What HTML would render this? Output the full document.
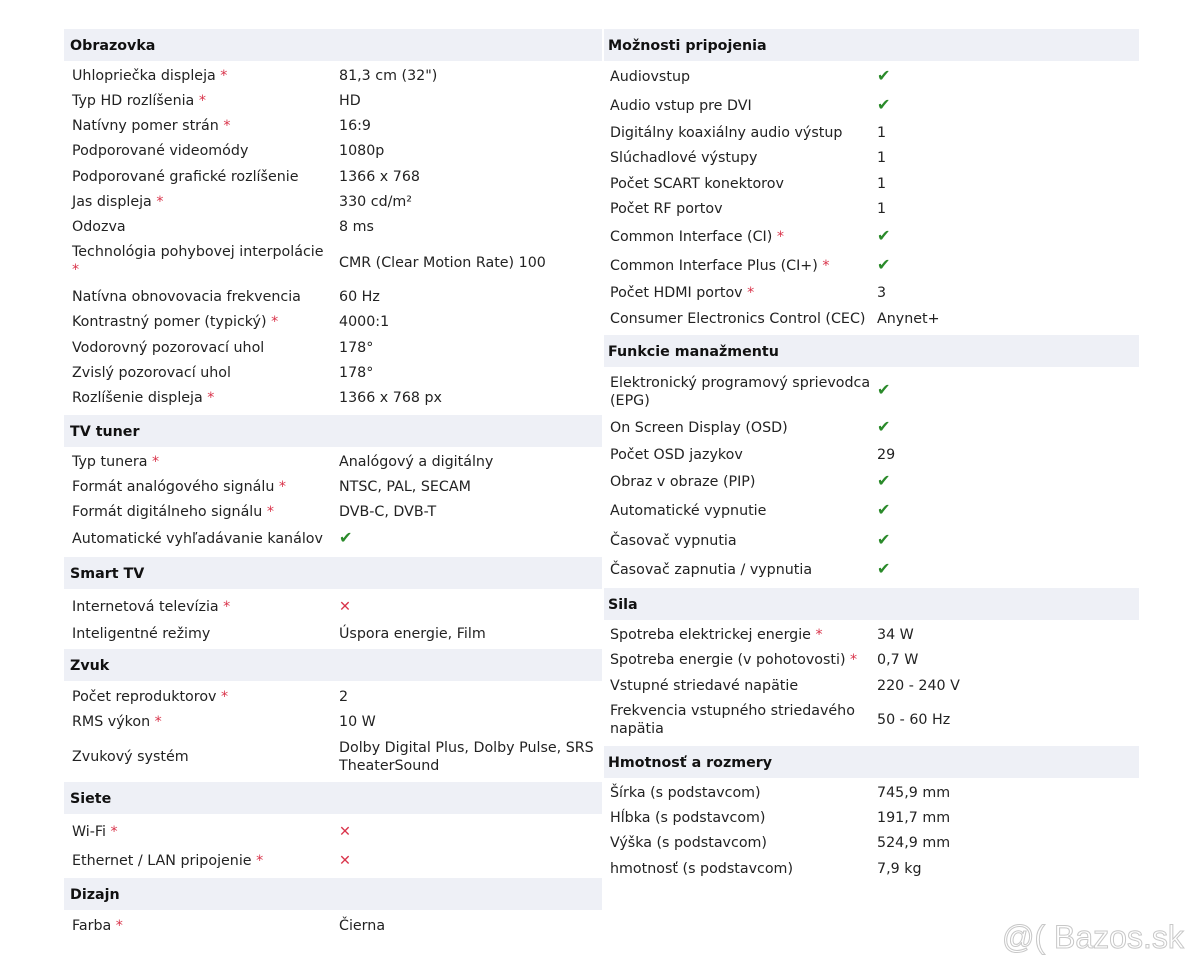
<!DOCTYPE html>
<html><head><meta charset="utf-8"><style>
body{margin:0;width:1200px;height:967px;background:#fff;position:relative;overflow:hidden;font-family:"DejaVu Sans","Liberation Sans",sans-serif;font-size:14.25px;color:#222}
div{position:absolute;white-space:nowrap;line-height:18px}
#w{left:0;top:1px;width:1200px;height:967px}
.hb{background:#eef0f6;height:32px}
.h{font-weight:bold;color:#111}
.s{color:#d9334a}
.c{color:#2a8a2a;font-weight:bold;font-size:16px}
.x{color:#d9334a}
.wm{font-family:"Liberation Sans",sans-serif;font-size:32px;color:#fff;-webkit-text-stroke:1px #c8c8c8;line-height:34px}
</style></head><body>
<div class="hb" style="left:64px;top:29px;width:538px"></div>
<div class="hb" style="left:64px;top:415px;width:538px"></div>
<div class="hb" style="left:64px;top:557px;width:538px"></div>
<div class="hb" style="left:64px;top:649px;width:538px"></div>
<div class="hb" style="left:64px;top:782px;width:538px"></div>
<div class="hb" style="left:64px;top:878px;width:538px"></div>
<div class="hb" style="left:604px;top:29px;width:535px"></div>
<div class="hb" style="left:604px;top:335px;width:535px"></div>
<div class="hb" style="left:604px;top:588px;width:535px"></div>
<div class="hb" style="left:604px;top:746px;width:535px"></div>
<div id="w">
<div class="h" style="left:70px;top:36px">Obrazovka</div>
<div style="left:72px;top:66px">Uhlopriečka displeja <span class="s">*</span></div><div style="left:339px;top:66px">81,3 cm (32")</div>
<div style="left:72px;top:91px">Typ HD rozlíšenia <span class="s">*</span></div><div style="left:339px;top:91px">HD</div>
<div style="left:72px;top:116px">Natívny pomer strán <span class="s">*</span></div><div style="left:339px;top:116px">16:9</div>
<div style="left:72px;top:141px">Podporované videomódy</div><div style="left:339px;top:141px">1080p</div>
<div style="left:72px;top:167px">Podporované grafické rozlíšenie</div><div style="left:339px;top:167px">1366 x 768</div>
<div style="left:72px;top:192px">Jas displeja <span class="s">*</span></div><div style="left:339px;top:192px">330 cd/m²</div>
<div style="left:72px;top:217px">Odozva</div><div style="left:339px;top:217px">8 ms</div>
<div style="left:72px;top:242px">Technológia pohybovej interpolácie<br><span class="s">*</span></div><div style="left:339px;top:253px">CMR (Clear Motion Rate) 100</div>
<div style="left:72px;top:287px">Natívna obnovovacia frekvencia</div><div style="left:339px;top:287px">60 Hz</div>
<div style="left:72px;top:312px">Kontrastný pomer (typický) <span class="s">*</span></div><div style="left:339px;top:312px">4000:1</div>
<div style="left:72px;top:338px">Vodorovný pozorovací uhol</div><div style="left:339px;top:338px">178°</div>
<div style="left:72px;top:363px">Zvislý pozorovací uhol</div><div style="left:339px;top:363px">178°</div>
<div style="left:72px;top:388px">Rozlíšenie displeja <span class="s">*</span></div><div style="left:339px;top:388px">1366 x 768 px</div>

<div class="h" style="left:70px;top:422px">TV tuner</div>
<div style="left:72px;top:452px">Typ tunera <span class="s">*</span></div><div style="left:339px;top:452px">Analógový a digitálny</div>
<div style="left:72px;top:477px">Formát analógového signálu <span class="s">*</span></div><div style="left:339px;top:477px">NTSC, PAL, SECAM</div>
<div style="left:72px;top:502px">Formát digitálneho signálu <span class="s">*</span></div><div style="left:339px;top:502px">DVB-C, DVB-T</div>
<div style="left:72px;top:529px">Automatické vyhľadávanie kanálov</div><div class="c" style="left:339px;top:528px">✔</div>

<div class="h" style="left:70px;top:564px">Smart TV</div>
<div style="left:72px;top:597px">Internetová televízia <span class="s">*</span></div><div class="x" style="left:339px;top:597px">✕</div>
<div style="left:72px;top:624px">Inteligentné režimy</div><div style="left:339px;top:624px">Úspora energie, Film</div>

<div class="h" style="left:70px;top:656px">Zvuk</div>
<div style="left:72px;top:687px">Počet reproduktorov <span class="s">*</span></div><div style="left:339px;top:687px">2</div>
<div style="left:72px;top:712px">RMS výkon <span class="s">*</span></div><div style="left:339px;top:712px">10 W</div>
<div style="left:72px;top:747px">Zvukový systém</div><div style="left:339px;top:738px">Dolby Digital Plus, Dolby Pulse, SRS<br>TheaterSound</div>

<div class="h" style="left:70px;top:789px">Siete</div>
<div style="left:72px;top:822px">Wi-Fi <span class="s">*</span></div><div class="x" style="left:339px;top:822px">✕</div>
<div style="left:72px;top:851px">Ethernet / LAN pripojenie <span class="s">*</span></div><div class="x" style="left:339px;top:851px">✕</div>

<div class="h" style="left:70px;top:885px">Dizajn</div>
<div style="left:72px;top:916px">Farba <span class="s">*</span></div><div style="left:339px;top:916px">Čierna</div>

<div class="h" style="left:608px;top:36px">Možnosti pripojenia</div>
<div style="left:610px;top:67px">Audiovstup</div><div class="c" style="left:877px;top:66px">✔</div>
<div style="left:610px;top:96px">Audio vstup pre DVI</div><div class="c" style="left:877px;top:95px">✔</div>
<div style="left:610px;top:123px">Digitálny koaxiálny audio výstup</div><div style="left:877px;top:123px">1</div>
<div style="left:610px;top:148px">Slúchadlové výstupy</div><div style="left:877px;top:148px">1</div>
<div style="left:610px;top:174px">Počet SCART konektorov</div><div style="left:877px;top:174px">1</div>
<div style="left:610px;top:199px">Počet RF portov</div><div style="left:877px;top:199px">1</div>
<div style="left:610px;top:227px">Common Interface (CI) <span class="s">*</span></div><div class="c" style="left:877px;top:226px">✔</div>
<div style="left:610px;top:256px">Common Interface Plus (CI+) <span class="s">*</span></div><div class="c" style="left:877px;top:255px">✔</div>
<div style="left:610px;top:283px">Počet HDMI portov <span class="s">*</span></div><div style="left:877px;top:283px">3</div>
<div style="left:610px;top:309px">Consumer Electronics Control (CEC)</div><div style="left:877px;top:309px">Anynet+</div>

<div class="h" style="left:608px;top:342px">Funkcie manažmentu</div>
<div style="left:610px;top:373px">Elektronický programový sprievodca<br>(EPG)</div><div class="c" style="left:877px;top:380px">✔</div>
<div style="left:610px;top:418px">On Screen Display (OSD)</div><div class="c" style="left:877px;top:417px">✔</div>
<div style="left:610px;top:445px">Počet OSD jazykov</div><div style="left:877px;top:445px">29</div>
<div style="left:610px;top:472px">Obraz v obraze (PIP)</div><div class="c" style="left:877px;top:471px">✔</div>
<div style="left:610px;top:501px">Automatické vypnutie</div><div class="c" style="left:877px;top:500px">✔</div>
<div style="left:610px;top:531px">Časovač vypnutia</div><div class="c" style="left:877px;top:530px">✔</div>
<div style="left:610px;top:560px">Časovač zapnutia / vypnutia</div><div class="c" style="left:877px;top:559px">✔</div>

<div class="h" style="left:608px;top:595px">Sila</div>
<div style="left:610px;top:625px">Spotreba elektrickej energie <span class="s">*</span></div><div style="left:877px;top:625px">34 W</div>
<div style="left:610px;top:650px">Spotreba energie (v pohotovosti) <span class="s">*</span></div><div style="left:877px;top:650px">0,7 W</div>
<div style="left:610px;top:676px">Vstupné striedavé napätie</div><div style="left:877px;top:676px">220 - 240 V</div>
<div style="left:610px;top:701px">Frekvencia vstupného striedavého<br>napätia</div><div style="left:877px;top:710px">50 - 60 Hz</div>

<div class="h" style="left:608px;top:753px">Hmotnosť a rozmery</div>
<div style="left:610px;top:783px">Šírka (s podstavcom)</div><div style="left:877px;top:783px">745,9 mm</div>
<div style="left:610px;top:808px">Hĺbka (s podstavcom)</div><div style="left:877px;top:808px">191,7 mm</div>
<div style="left:610px;top:833px">Výška (s podstavcom)</div><div style="left:877px;top:833px">524,9 mm</div>
<div style="left:610px;top:859px">hmotnosť (s podstavcom)</div><div style="left:877px;top:859px">7,9 kg</div>
</div>
<div class="wm" style="left:1002px;top:920px">@( Bazos.sk</div>
</body></html>
